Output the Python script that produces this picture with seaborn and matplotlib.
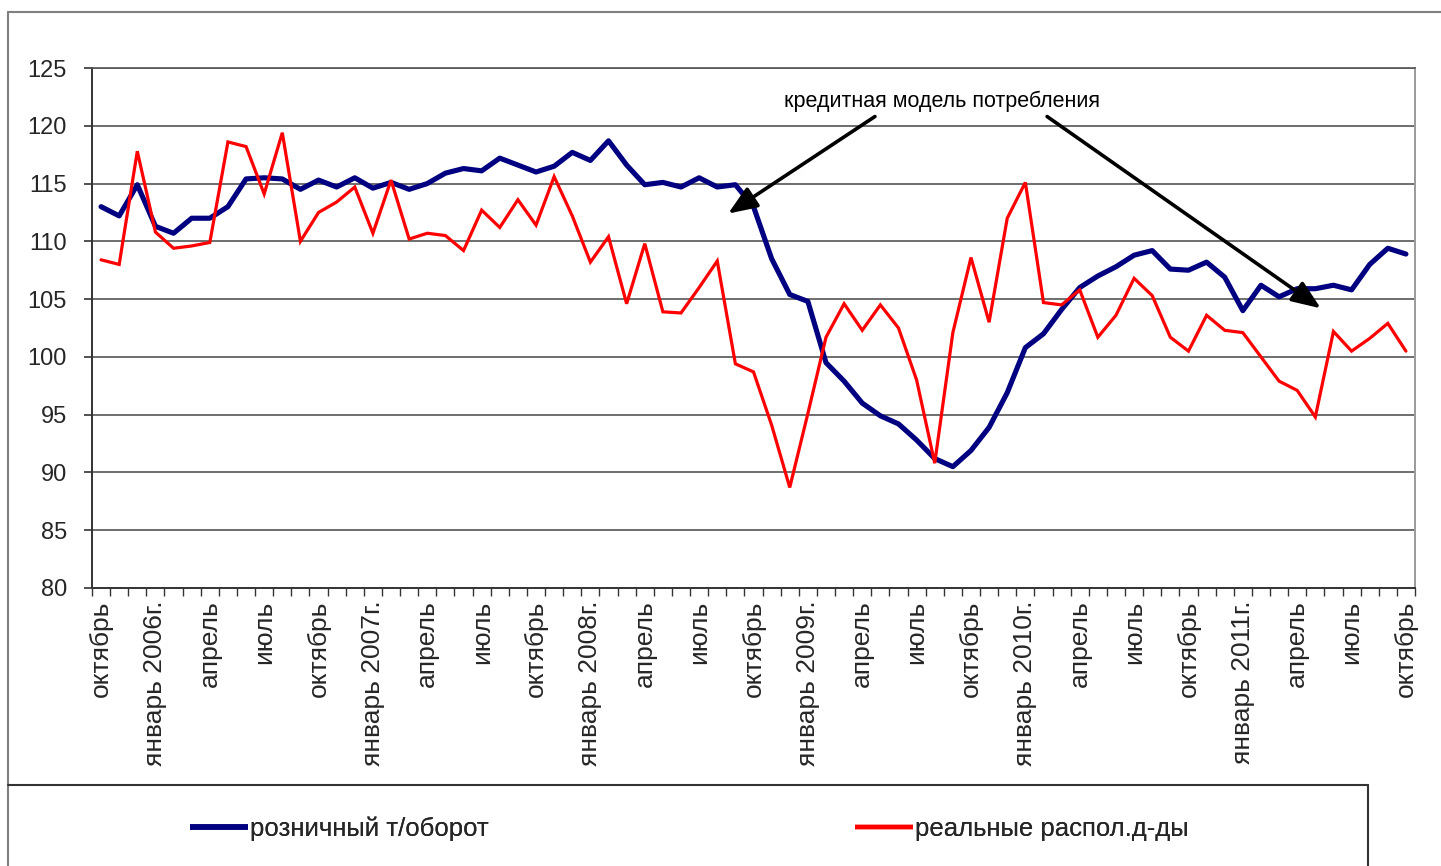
import numpy as np
import pandas as pd
import matplotlib
matplotlib.use("Agg")
import matplotlib.pyplot as plt
import seaborn as sns
from matplotlib.lines import Line2D

# Monthly index values, October 2005 - October 2011
retail = [113.0, 112.2, 114.9, 111.3, 110.7, 112.0, 112.0, 113.0, 115.4, 115.5,
          115.4, 114.5, 115.3, 114.7, 115.5, 114.6, 115.1, 114.5, 115.0, 115.9,
          116.3, 116.1, 117.2, 116.6, 116.0, 116.5, 117.7, 117.0, 118.7, 116.6,
          114.9, 115.1, 114.7, 115.5, 114.7, 114.9, 113.0, 108.5, 105.4, 104.8,
          99.5, 97.9, 96.0, 94.9, 94.2, 92.8, 91.2, 90.5, 91.9, 93.9,
          96.9, 100.8, 102.0, 104.1, 106.0, 107.0, 107.8, 108.8, 109.2, 107.6,
          107.5, 108.2, 106.9, 104.0, 106.2, 105.2, 105.9, 105.9, 106.2, 105.8,
          108.0, 109.4, 108.9]

income = [108.4, 108.0, 117.8, 110.8, 109.4, 109.6, 109.9, 118.6, 118.2, 114.1,
          119.4, 110.0, 112.5, 113.4, 114.7, 110.7, 115.3, 110.2, 110.7, 110.5,
          109.2, 112.7, 111.2, 113.6, 111.4, 115.6, 112.2, 108.2, 110.4, 104.6,
          109.8, 103.9, 103.8, 106.0, 108.3, 99.4, 98.7, 94.1, 88.7, 95.1,
          101.7, 104.6, 102.3, 104.5, 102.5, 98.0, 90.8, 102.1, 108.6, 103.0,
          112.0, 115.1, 104.7, 104.5, 105.8, 101.7, 103.6, 106.8, 105.3, 101.7,
          100.5, 103.6, 102.3, 102.1, 100.0, 97.9, 97.1, 94.8, 102.2, 100.5,
          101.6, 102.9, 100.5]

tick_labels = ["октябрь", "январь 2006г.", "апрель", "июль",
               "октябрь", "январь 2007г.", "апрель", "июль",
               "октябрь", "январь 2008г.", "апрель", "июль",
               "октябрь", "январь 2009г.", "апрель", "июль",
               "октябрь", "январь 2010г.", "апрель", "июль",
               "октябрь", "январь 2011г.", "апрель", "июль",
               "октябрь"]

series_names = ["розничный т/оборот", "реальные распол.д-ды"]
y_ticks = [80, 85, 90, 95, 100, 105, 110, 115, 120, 125]
note_text = "кредитная модель потребления"

NAVY = "#000080"
RED = "#FF0000"
GRID = "#555555"

sns.set_theme(style="white")
plt.rcParams["font.family"] = ["Liberation Sans", "DejaVu Sans"]

W, H = 1441, 866
fig = plt.figure(figsize=(W / 100, H / 100), dpi=100)
fig.patch.set_facecolor("white")

def fx(px):
    return px / W

def fy(py):
    return 1 - py / H

ax = fig.add_axes([fx(92), fy(588), fx(1415) - fx(92), fy(68) - fy(588)])

months = np.arange(len(retail))
df = pd.DataFrame({"month": months, series_names[0]: retail, series_names[1]: income})

sns.lineplot(data=df, x="month", y=series_names[0], color=NAVY, linewidth=3.7,
             ax=ax, legend=False, solid_joinstyle="round", solid_capstyle="round")
sns.lineplot(data=df, x="month", y=series_names[1], color=RED, linewidth=2.3,
             ax=ax, legend=False, solid_joinstyle="miter")

ax.set_xlim(-0.5, len(retail) - 0.5)
ax.set_ylim(80, 125)
ax.set_xlabel("")
ax.set_ylabel("")

# horizontal gridlines
for v in y_ticks[1:]:
    ax.axhline(v, color=GRID, linewidth=1.2, zorder=0.5)

ax.set_yticks(y_ticks)
ax.set_yticklabels([str(v) for v in y_ticks], fontsize=17)
ax.tick_params(axis="y", direction="out", length=6, width=1.2, color="#333333", pad=12, left=True)

label_pos = months[::3]
ax.set_xticks(label_pos)
ax.set_xticklabels(tick_labels, rotation=90, fontsize=19, va="top", ha="center")
ax.set_xticks(np.arange(-0.5, len(retail)), minor=True)
ax.tick_params(axis="x", which="major", length=0, pad=9, bottom=True)
ax.tick_params(axis="x", which="minor", direction="out", length=6, width=1.0,
               color="#333333", bottom=True)

for side in ["left", "bottom"]:
    ax.spines[side].set_color("#333333")
    ax.spines[side].set_linewidth(1.4)
ax.spines["right"].set_color("#9a9a9a")
ax.spines["right"].set_linewidth(1.4)
ax.spines["top"].set_color(GRID)
ax.spines["top"].set_linewidth(1.2)

# annotation with two arrows
note_xy = (46.4, 122.1)
arrow_tails = [(42.7, 120.8), (52.2, 120.8)]
arrow_heads = [(34.6, 112.4), (67.3, 104.2)]
ax.text(note_xy[0], note_xy[1], note_text, fontsize=15.5, ha="center", va="center", color="black")
for tail, head in zip(arrow_tails, arrow_heads):
    ax.annotate("", xy=head, xytext=tail,
                arrowprops=dict(arrowstyle="-|>,head_length=0.8,head_width=0.32", color="black",
                                lw=2.6, mutation_scale=22, shrinkA=0, shrinkB=0))

# chart area and legend frame
frame_kw = dict(transform=fig.transFigure, color="#7f7f7f", linewidth=1.5)
fig.add_artist(Line2D([fx(8), 1.0], [fy(12), fy(12)], **frame_kw))
fig.add_artist(Line2D([fx(8), fx(8)], [fy(12), 0.0], **frame_kw))
legend_kw = dict(transform=fig.transFigure, color="#333333", linewidth=1.5)
fig.add_artist(Line2D([fx(8), fx(1368)], [fy(785), fy(785)], **legend_kw))
fig.add_artist(Line2D([fx(1368), fx(1368)], [fy(785), 0.0], **legend_kw))

# legend entries
entries = [(series_names[0], NAVY, 4.0, 190), (series_names[1], RED, 3.2, 855)]
for name, col, lw, x0 in entries:
    leg = fig.legend(handles=[Line2D([], [], color=col, linewidth=lw, solid_capstyle="butt")],
                     labels=[name], loc="center left",
                     bbox_to_anchor=(fx(x0), fy(829)), frameon=False, fontsize=18.5,
                     handlelength=2.25, handletextpad=0.1, borderpad=0, borderaxespad=0)
    fig.add_artist(leg)

fig.savefig("out.png", dpi=100, facecolor="white")
